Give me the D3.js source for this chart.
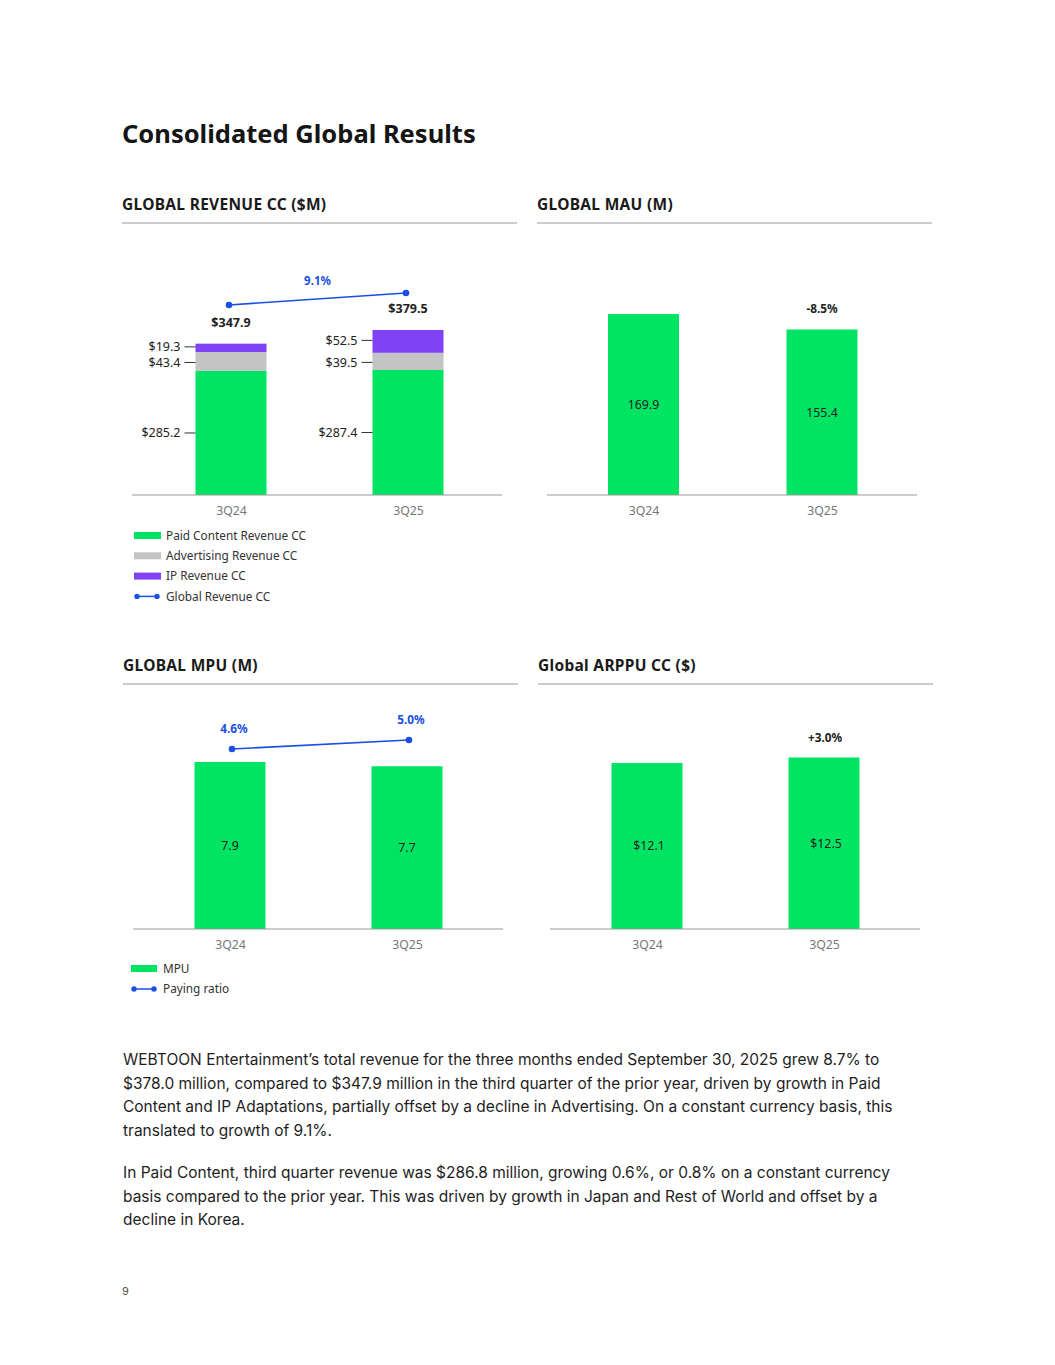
<!DOCTYPE html>
<html><head><meta charset="utf-8">
<script src="https://cdn.jsdelivr.net/npm/d3@7"></script>
<style>
body{margin:0;background:#fff;}
svg{display:block;}
</style></head><body>
<svg id="c" width="1055" height="1365"></svg>
<script>
// ---- data ----
const quarters = ["3Q24", "3Q25"];
const paidContent = [285.2, 287.4];
const advertising = [43.4, 39.5];
const ipRevenue = [19.3, 52.5];
const revenueTotal = [347.9, 379.5];
const revenueGrowth = "9.1%";
const mau = [169.9, 155.4];
const mauGrowth = "-8.5%";
const mpu = [7.9, 7.7];
const payingRatio = [4.6, 5.0];
const arppu = [12.1, 12.5];
const arppuGrowth = "+3.0%";
const revenueLegend = ["Paid Content Revenue CC", "Advertising Revenue CC", "IP Revenue CC", "Global Revenue CC"];
const mpuLegend = ["MPU", "Paying ratio"];
const para1 = ["WEBTOON Entertainment’s total revenue for the three months ended September 30, 2025 grew 8.7% to",
 "$378.0 million, compared to $347.9 million in the third quarter of the prior year, driven by growth in Paid",
 "Content and IP Adaptations, partially offset by a decline in Advertising. On a constant currency basis, this",
 "translated to growth of 9.1%."];
const para2 = ["In Paid Content, third quarter revenue was $286.8 million, growing 0.6%, or 0.8% on a constant currency",
 "basis compared to the prior year. This was driven by growth in Japan and Rest of World and offset by a",
 "decline in Korea."];

const GREEN = "#00E463", GRAY = "#C4C4C4", PURPLE = "#7F43F5", BLUE = "#1B4FE4";
const CF = "'Noto Sans', sans-serif";
const svg = d3.select("#c");

// title
svg.append("text").attr("x", 122).attr("y", 143).attr("font-family", CF).attr("font-weight", 700)
  .attr("font-size", 25.5).attr("fill", "#151515").text("Consolidated Global Results");

function section(x, y, w, label) {
  svg.append("text").attr("x", x).attr("y", y).attr("font-family", CF).attr("font-weight", 700)
    .attr("font-size", 15.5).attr("letter-spacing", 0.3).attr("fill", "#1a1a1a").text(label);
  svg.append("line").attr("x1", x).attr("x2", x + w).attr("y1", y + 13).attr("y2", y + 13)
    .attr("stroke", "#9a9a9a").attr("stroke-width", 1);
}
section(122, 210, 395, "GLOBAL REVENUE CC ($M)");
section(537, 210, 395, "GLOBAL MAU (M)");
section(123, 671, 395, "GLOBAL MPU (M)");
section(538, 671, 395, "Global ARPPU CC ($)");

function baseAxis(x, xr, base) {
  svg.append("line").attr("x1", xr[0]).attr("x2", xr[1]).attr("y1", base).attr("y2", base)
    .attr("stroke", "#999").attr("stroke-width", 1.2);
  const g = svg.append("g").attr("transform", `translate(0,${base + 11})`)
    .call(d3.axisBottom(x).tickSize(0).tickPadding(0));
  g.select(".domain").remove();
  g.selectAll("text").attr("font-family", CF).attr("font-size", 12.3).attr("fill", "#777").attr("dy", "0.71em");
}
const BW = 71;

// ---- Revenue chart ----
{
  const x = d3.scalePoint().domain(quarters).range([231, 408]);
  const y = d3.scaleLinear().domain([0, 400]).range([495, 321]);
  const y2 = d3.scaleLinear().domain([300, 400]).range([323.2, 285.2]);
  const keys = ["paid", "adv", "ip"];
  const nudge = {paid: 0, adv: 1, ip: -1};
  const rows = quarters.map((q, i) => ({q, paid: paidContent[i], adv: advertising[i], ip: ipRevenue[i]}));
  const stack = d3.stack().keys(keys)(rows);
  const col = {paid: GREEN, adv: GRAY, ip: PURPLE};
  stack.forEach(s => {
    svg.append("g").selectAll("rect").data(s).join("rect")
      .attr("x", d => x(d.data.q) - BW / 2).attr("width", BW)
      .attr("y", d => y(d[1])).attr("height", d => y(d[0]) - y(d[1]))
      .attr("fill", col[s.key]);
    s.forEach(d => {
      const yy = (y(d[0]) + y(d[1])) / 2 + nudge[s.key];
      const x0 = x(d.data.q) - BW / 2;
      svg.append("line").attr("x1", x0 - 11).attr("x2", x0).attr("y1", yy).attr("y2", yy)
        .attr("stroke", "#333").attr("stroke-width", 1);
      svg.append("text").attr("x", x0 - 15).attr("y", yy).attr("dy", "0.35em").attr("text-anchor", "end")
        .attr("font-family", CF).attr("font-size", 12.5).attr("fill", "#222").text("$" + d.data[s.key].toFixed(1));
    });
  });
  svg.append("g").selectAll("text").data(quarters).join("text")
    .attr("x", q => x(q)).attr("y", (q, i) => y(revenueTotal[i]) - 17).attr("text-anchor", "middle")
    .attr("font-family", CF).attr("font-weight", 700).attr("font-size", 12.5).attr("fill", "#222")
    .text((q, i) => "$" + revenueTotal[i].toFixed(1));
  const pts = quarters.map((q, i) => [x(q) - 2, y2(revenueTotal[i])]);
  svg.append("path").attr("d", d3.line()(pts)).attr("stroke", BLUE).attr("stroke-width", 1.6).attr("fill", "none");
  svg.append("g").selectAll("circle").data(pts).join("circle").attr("cx", d => d[0]).attr("cy", d => d[1]).attr("r", 3.3).attr("fill", BLUE);
  svg.append("text").attr("x", (pts[0][0] + pts[1][0]) / 2).attr("y", 285).attr("text-anchor", "middle")
    .attr("font-family", CF).attr("font-weight", 700).attr("font-size", 11.5).attr("fill", BLUE).text(revenueGrowth);
  baseAxis(x, [132, 502], 495);
  const lg = svg.append("g");
  const lc = [GREEN, GRAY, PURPLE];
  revenueLegend.forEach((t, i) => {
    const yy = 535.5 + i * 20.3;
    if (i < 3) lg.append("rect").attr("x", 134).attr("y", yy - 3.5).attr("width", 27).attr("height", 7).attr("fill", lc[i]);
    else {
      lg.append("line").attr("x1", 137).attr("x2", 157).attr("y1", yy).attr("y2", yy).attr("stroke", BLUE).attr("stroke-width", 1.5);
      lg.append("circle").attr("cx", 137).attr("cy", yy).attr("r", 2.7).attr("fill", BLUE);
      lg.append("circle").attr("cx", 157).attr("cy", yy).attr("r", 2.7).attr("fill", BLUE);
    }
    lg.append("text").attr("x", 166).attr("y", yy).attr("dy", "0.35em").attr("font-family", CF)
      .attr("font-size", 11.8).attr("fill", "#333").text(t);
  });
}

// ---- MAU chart ----
{
  const x = d3.scalePoint().domain(quarters).range([643.5, 822]);
  const y = d3.scaleLinear().domain([0, 200]).range([495, 282]);
  svg.append("g").selectAll("rect").data(mau).join("rect")
    .attr("x", (d, i) => x(quarters[i]) - BW / 2).attr("width", BW)
    .attr("y", d => y(d)).attr("height", d => y(0) - y(d)).attr("fill", GREEN);
  svg.append("g").selectAll("text").data(mau).join("text")
    .attr("x", (d, i) => x(quarters[i])).attr("y", d => (y(d) + y(0)) / 2).attr("dy", "0.35em").attr("text-anchor", "middle")
    .attr("font-family", CF).attr("font-size", 12.3).attr("fill", "#222").text(d => d.toFixed(1));
  svg.append("text").attr("x", x(quarters[1])).attr("y", y(mau[1]) - 16).attr("text-anchor", "middle")
    .attr("font-family", CF).attr("font-weight", 700).attr("font-size", 11.8).attr("fill", "#222").text(mauGrowth);
  baseAxis(x, [547, 917], 495);
}

// ---- MPU chart ----
{
  const x = d3.scalePoint().domain(quarters).range([230, 407]);
  const y = d3.scaleLinear().domain([0, 10]).range([929, 717.6]);
  const y2 = d3.scaleLinear().domain([4, 6]).range([762.5, 717.5]);
  svg.append("g").selectAll("rect").data(mpu).join("rect")
    .attr("x", (d, i) => x(quarters[i]) - BW / 2).attr("width", BW)
    .attr("y", d => y(d)).attr("height", d => y(0) - y(d)).attr("fill", GREEN);
  svg.append("g").selectAll("text").data(mpu).join("text")
    .attr("x", (d, i) => x(quarters[i])).attr("y", d => (y(d) + y(0)) / 2).attr("dy", "0.35em").attr("text-anchor", "middle")
    .attr("font-family", CF).attr("font-size", 12.3).attr("fill", "#222").text(d => d.toFixed(1));
  const pts = quarters.map((q, i) => [x(q) + 2, y2(payingRatio[i])]);
  svg.append("path").attr("d", d3.line()(pts)).attr("stroke", BLUE).attr("stroke-width", 1.6).attr("fill", "none");
  svg.append("g").selectAll("circle").data(pts).join("circle").attr("cx", d => d[0]).attr("cy", d => d[1]).attr("r", 3.3).attr("fill", BLUE);
  svg.append("g").selectAll("text").data(pts).join("text")
    .attr("x", d => d[0] + 2).attr("y", d => d[1] - 16).attr("text-anchor", "middle")
    .attr("font-family", CF).attr("font-weight", 700).attr("font-size", 11.8).attr("fill", BLUE)
    .text((d, i) => payingRatio[i].toFixed(1) + "%");
  baseAxis(x, [133, 503], 929);
  const lg = svg.append("g");
  mpuLegend.forEach((t, i) => {
    const yy = 968.5 + i * 20.5;
    if (i === 0) lg.append("rect").attr("x", 131).attr("y", yy - 3.5).attr("width", 26).attr("height", 7).attr("fill", GREEN);
    else {
      lg.append("line").attr("x1", 134).attr("x2", 154).attr("y1", yy).attr("y2", yy).attr("stroke", BLUE).attr("stroke-width", 1.5);
      lg.append("circle").attr("cx", 134).attr("cy", yy).attr("r", 2.7).attr("fill", BLUE);
      lg.append("circle").attr("cx", 154).attr("cy", yy).attr("r", 2.7).attr("fill", BLUE);
    }
    lg.append("text").attr("x", 163).attr("y", yy).attr("dy", "0.35em").attr("font-family", CF)
      .attr("font-size", 11.8).attr("fill", "#333").text(t);
  });
}

// ---- ARPPU chart ----
{
  const x = d3.scalePoint().domain(quarters).range([647, 824]);
  const y = d3.scaleLinear().domain([0, 15]).range([929, 723.2]);
  svg.append("g").selectAll("rect").data(arppu).join("rect")
    .attr("x", (d, i) => x(quarters[i]) - BW / 2).attr("width", BW)
    .attr("y", d => y(d)).attr("height", d => y(0) - y(d)).attr("fill", GREEN);
  svg.append("g").selectAll("text").data(arppu).join("text")
    .attr("x", (d, i) => x(quarters[i]) + 2).attr("y", d => (y(d) + y(0)) / 2).attr("dy", "0.35em").attr("text-anchor", "middle")
    .attr("font-family", CF).attr("font-size", 12.3).attr("fill", "#222").text(d => "$" + d.toFixed(1));
  svg.append("text").attr("x", x(quarters[1]) + 1).attr("y", y(arppu[1]) - 16).attr("text-anchor", "middle")
    .attr("font-family", CF).attr("font-weight", 700).attr("font-size", 11.8).attr("fill", "#222").text(arppuGrowth);
  baseAxis(x, [550, 920], 929);
}

// ---- paragraphs ----
function para(lines, y0) {
  const t = svg.append("text").attr("font-family", "Inter, sans-serif").attr("font-size", 15.5).attr("fill", "#1e1e1e");
  lines.forEach((l, i) => t.append("tspan").attr("x", 123).attr("y", y0 + i * 23.5).text(l));
}
para(para1, 1065);
para(para2, 1178);
svg.append("text").attr("x", 122).attr("y", 1295).attr("font-family", "Inter, sans-serif").attr("font-size", 11).attr("fill", "#555").text("9");
</script>
</body></html>
